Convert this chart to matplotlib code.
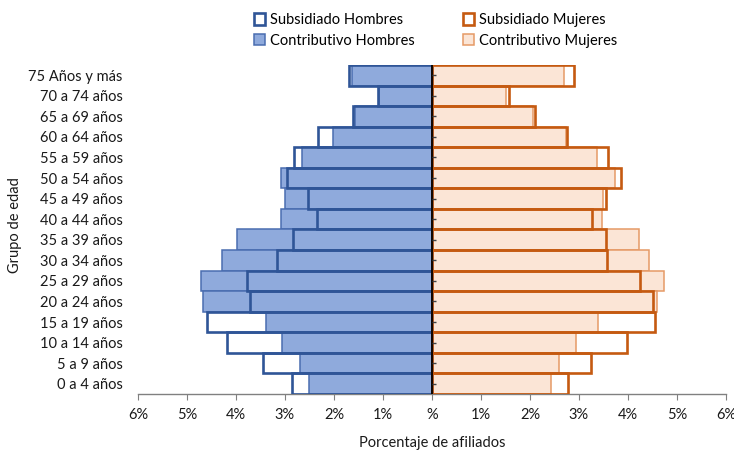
import matplotlib
matplotlib.use("Agg")
import matplotlib.pyplot as plt
from matplotlib.patches import Patch
from matplotlib.ticker import FixedLocator, FuncFormatter

plt.rcParams['font.family'] = ['Lato', 'DejaVu Sans']

# categories listed from top (oldest) to bottom (youngest)
grupos = ["75 Años y más", "70 a 74 años", "65 a 69 años", "60 a 64 años",
          "55 a 59 años", "50 a 54 años", "45 a 49 años", "40 a 44 años",
          "35 a 39 años", "30 a 34 años", "25 a 29 años", "20 a 24 años",
          "15 a 19 años", "10 a 14 años", "5 a 9 años", "0 a 4 años"]

sub_hombres = [1.70, 1.11, 1.61, 2.33, 2.82, 2.95, 2.53, 2.34,
               2.84, 3.16, 3.78, 3.72, 4.59, 4.18, 3.45, 2.86]
con_hombres = [1.63, 1.09, 1.57, 2.03, 2.65, 3.09, 3.00, 3.09,
               3.97, 4.29, 4.72, 4.67, 3.39, 3.07, 2.69, 2.50]
sub_mujeres = [2.90, 1.57, 2.10, 2.76, 3.59, 3.85, 3.56, 3.27,
               3.56, 3.58, 4.25, 4.51, 4.56, 3.99, 3.25, 2.78]
con_mujeres = [2.70, 1.52, 2.07, 2.74, 3.37, 3.74, 3.49, 3.48,
               4.23, 4.42, 4.73, 4.60, 3.38, 2.95, 2.59, 2.43]

xticks = [-6, -5, -4, -3, -2, -1, 0, 1, 2, 3, 4, 5, 6]

n = len(grupos)

fig = plt.figure(figsize=(7.34, 4.51), dpi=100)
ax = fig.add_axes([0.188, 0.1264, 0.801, 0.7296])

ypos = list(range(n))[::-1]  # top row = first entry

c_blue_fill = "#8FAADC"
c_blue_edge = "#4A6DB0"
c_blue_dark = "#2F5597"
c_or_fill = "#FBE5D6"
c_or_edge = "#E59A66"
c_or_dark = "#C55A11"

ax.barh(ypos, [-v for v in con_hombres], height=1.0, color=c_blue_fill,
        edgecolor=c_blue_edge, linewidth=1.1, zorder=2)
ax.barh(ypos, [-v for v in sub_hombres], height=1.0, facecolor="none",
        edgecolor=c_blue_dark, linewidth=1.9, zorder=3)
ax.barh(ypos, con_mujeres, height=1.0, color=c_or_fill,
        edgecolor=c_or_edge, linewidth=1.1, zorder=2)
ax.barh(ypos, sub_mujeres, height=1.0, facecolor="none",
        edgecolor=c_or_dark, linewidth=1.9, zorder=3)

ax.set_xlim(-6, 6)
ax.set_ylim(-0.5, n - 0.5)

# central axis line with ticks
ax.axvline(0, color="black", linewidth=1.3, zorder=5)
for y in ypos:
    ax.plot([0, 0.08], [y, y], color="#404040", linewidth=1.0, zorder=5,
            solid_capstyle="butt")

ax.xaxis.set_major_locator(FixedLocator(xticks))
ax.xaxis.set_major_formatter(FuncFormatter(
    lambda v, p: "%" if abs(v) < 1e-9 else f"{abs(int(round(v)))}%"))
ax.set_yticks(ypos)
ax.set_yticklabels(grupos)

for s in ["top", "right", "left"]:
    ax.spines[s].set_visible(False)
ax.spines["bottom"].set_color("#808080")
ax.spines["bottom"].set_linewidth(1.0)
ax.tick_params(axis="x", direction="out", length=4, color="#808080",
               labelsize=10.5, pad=6, labelcolor="#1a1a1a")
ax.tick_params(axis="y", length=0, pad=11, labelsize=10.5, labelcolor="#1a1a1a")

ax.set_xlabel("Porcentaje de afiliados", fontsize=10.5, color="#1a1a1a", labelpad=10)
fig.text(0.02, 0.5, "Grupo de edad", rotation=90, ha="center", va="center",
         fontsize=10.5, color="#1a1a1a")

handles = [
    Patch(facecolor="white", edgecolor=c_blue_dark, linewidth=1.9, label="Subsidiado Hombres"),
    Patch(facecolor=c_blue_fill, edgecolor=c_blue_edge, linewidth=1.1, label="Contributivo Hombres"),
    Patch(facecolor="white", edgecolor=c_or_dark, linewidth=1.9, label="Subsidiado Mujeres"),
    Patch(facecolor=c_or_fill, edgecolor=c_or_edge, linewidth=1.1, label="Contributivo Mujeres"),
]
fig.legend(handles=handles, ncol=2, loc="upper center", bbox_to_anchor=(0.593, 1.0),
           frameon=False, fontsize=10.5, handlelength=0.8, handleheight=0.8,
           handletextpad=0.3, columnspacing=3.3, labelspacing=0.45)

fig.savefig("out.png", dpi=100)
